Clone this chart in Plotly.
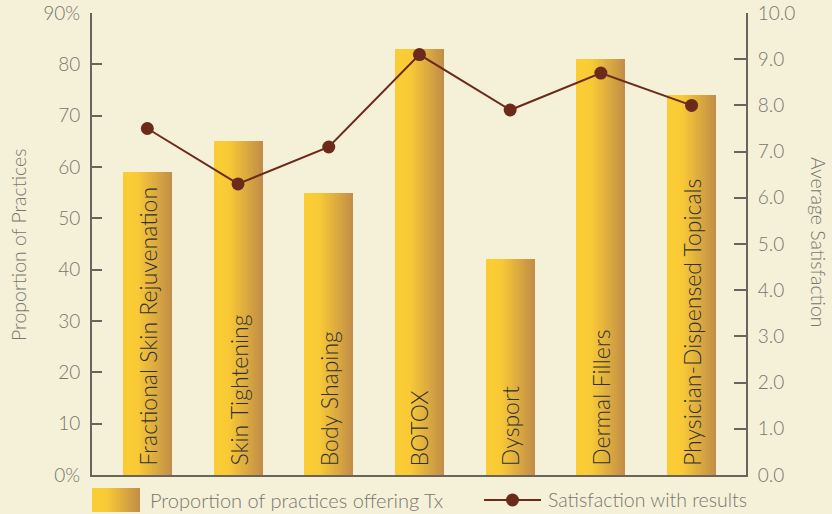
import plotly.graph_objects as go

categories = ["Fractional Skin Rejuvenation", "Skin Tightening", "Body Shaping",
              "BOTOX", "Dysport", "Dermal Fillers", "Physician-Dispensed Topicals"]
proportion = [59, 65, 55, 83, 42, 81, 74]
satisfaction = [7.5, 6.3, 7.1, 9.1, 7.9, 8.7, 8.0]
left_ticks = [0, 10, 20, 30, 40, 50, 60, 70, 80, 90]
left_labels = ["0%", "10", "20", "30", "40", "50", "60", "70", "80", "90%"]
right_ticks = [0, 1, 2, 3, 4, 5, 6, 7, 8, 9, 10]
right_labels = ["0.0", "1.0", "2.0", "3.0", "4.0", "5.0", "6.0", "7.0", "8.0", "9.0", "10.0"]
bar_name = "Proportion of practices offering Tx"
line_name = "Satisfaction with results"

FONT = "Lato"
WT = 300
BG = "#F5F0D8"
AXIS = "#66665f"
TICKTXT = "#77776f"
LINEC = "#6B2A1A"
W, H = 832, 514
L, R, T, B = 92, 86, 13, 39
PW, PH = W - L - R, H - T - B

c0 = (250, 205, 52)
c1 = (249, 202, 54)
c2 = (193, 141, 72)


def grad(t):
    if t < 0.3:
        a, b, u = c0, c1, t / 0.3
    else:
        a, b, u = c1, c2, (t - 0.3) / 0.7
    return "rgb(%d,%d,%d)" % tuple(round(a[k] + (b[k] - a[k]) * u) for k in range(3))


def f(size, color):
    return dict(family=FONT, size=size, color=color, weight=WT)


fig = go.Figure()
N = 30
BW = 0.54
for i in range(N):
    off = -BW / 2 + i * BW / N
    fig.add_trace(go.Bar(
        x=categories, y=proportion, offset=off, width=BW - i * BW / N,
        marker=dict(color=grad((i + 0.5) / N), line=dict(width=0)),
        showlegend=False, hoverinfo="skip", yaxis="y"))

fig.add_trace(go.Scatter(
    x=categories, y=satisfaction, yaxis="y2", mode="lines+markers",
    line=dict(color=LINEC, width=2), marker=dict(color=LINEC, size=13),
    showlegend=False, name=line_name))

for c in categories:
    fig.add_annotation(x=c, y=0, xref="x", yref="y", text=c, textangle=-90,
                       showarrow=False, yanchor="bottom", xanchor="center", yshift=7,
                       font=f(23, "#303030"))


def px(x):
    return (x - L) / PW


def py(y):
    return (H - B - y) / PH


shapes = []
M = 24
for i in range(M):
    x0 = 92 + i * 48 / M
    shapes.append(dict(type="rect", xref="paper", yref="paper",
                       x0=px(x0), x1=px(140), y0=py(512), y1=py(488),
                       fillcolor=grad((i + 0.5) / M), line=dict(width=0), layer="above"))
shapes.append(dict(type="line", xref="paper", yref="paper", x0=px(484), x1=px(541),
                   y0=py(500), y1=py(500), line=dict(color=LINEC, width=2)))
shapes.append(dict(type="circle", xref="paper", yref="paper", x0=px(506), x1=px(519),
                   y0=py(506.5), y1=py(493.5), fillcolor=LINEC, line=dict(width=0)))

fig.add_annotation(x=px(148), y=py(500), xref="paper", yref="paper", text=bar_name,
                   showarrow=False, xanchor="left", yanchor="middle", font=f(20, TICKTXT))
fig.add_annotation(x=px(546), y=py(500), xref="paper", yref="paper", text=line_name,
                   showarrow=False, xanchor="left", yanchor="middle", font=f(19.5, TICKTXT))
fig.add_annotation(x=px(18), y=py(245), xref="paper", yref="paper", text="Proportion of Practices",
                   showarrow=False, textangle=-90, xanchor="center", yanchor="middle",
                   font=f(19.5, TICKTXT))
fig.add_annotation(x=px(819), y=py(242), xref="paper", yref="paper", text="Average Satisfaction",
                   showarrow=False, textangle=90, xanchor="center", yanchor="middle",
                   font=f(19.5, TICKTXT))

fig.update_layout(
    width=W, height=H, margin=dict(l=L, r=R, t=T, b=B, autoexpand=False),
    paper_bgcolor=BG, plot_bgcolor=BG, barmode="overlay", bargap=0,
    shapes=shapes, showlegend=False,
    font=f(19, TICKTXT),
    xaxis=dict(type="category", range=[-0.61, 6.6], showticklabels=False, ticks="",
               showline=True, linecolor=AXIS, linewidth=2, showgrid=False, zeroline=False,
               fixedrange=True),
    yaxis=dict(range=[0, 90], tickvals=left_ticks, ticktext=left_labels, ticks="inside",
               ticklen=10, tickwidth=2, tickcolor=AXIS, showline=True, linecolor=AXIS,
               linewidth=2, showgrid=False, zeroline=False, ticklabelstandoff=6,
               tickfont=f(19, TICKTXT)),
    yaxis2=dict(range=[0, 10], overlaying="y", side="right", tickvals=right_ticks,
                ticktext=right_labels, ticks="inside", ticklen=12, tickwidth=2,
                tickcolor=AXIS, showline=True, linecolor=AXIS, linewidth=2,
                showgrid=False, zeroline=False, ticklabelstandoff=6,
                tickfont=f(19, TICKTXT)),
)

fig.write_html("out.html")
